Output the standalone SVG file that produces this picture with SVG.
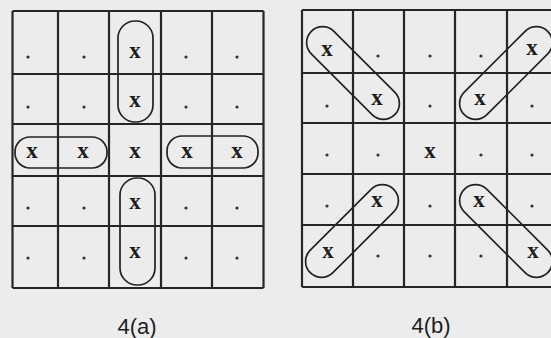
<svg xmlns="http://www.w3.org/2000/svg" width="551" height="338" viewBox="0 0 551 338">
<style>
.g{stroke:#262626;stroke-width:2.2;fill:none}
.p{stroke:#222;stroke-width:1.7;fill:none}
.x{font-family:"Liberation Serif",serif;font-weight:bold;font-size:23px;fill:#1e1e1e;text-anchor:middle}
.d{fill:#333}
.l{font-family:"Liberation Sans",sans-serif;font-size:22px;fill:#1e1e1e;text-anchor:middle}
</style>
<rect width="551" height="338" fill="#ececec"/>
<g id="grid-a">
<path class="g" d="M12.5 11V288M58 11V288M109 11V288M161 11V288M212 11V288M263.5 11V288M12.5 11H263.5M12.5 74H263.5M12.5 124H263.5M12.5 176H263.5M12.5 226H263.5M12.5 288H263.5"/>
<g id="dots-a">
<circle class="d" cx="28" cy="57" r="1.6"/><circle class="d" cx="84" cy="57" r="1.6"/><circle class="d" cx="186" cy="57" r="1.6"/><circle class="d" cx="237" cy="57" r="1.6"/>
<circle class="d" cx="28" cy="107" r="1.6"/><circle class="d" cx="84" cy="107" r="1.6"/><circle class="d" cx="186" cy="107" r="1.6"/><circle class="d" cx="237" cy="107" r="1.6"/>
<circle class="d" cx="28" cy="208" r="1.6"/><circle class="d" cx="84" cy="208" r="1.6"/><circle class="d" cx="186" cy="208" r="1.6"/><circle class="d" cx="237" cy="208" r="1.6"/>
<circle class="d" cx="28" cy="258" r="1.6"/><circle class="d" cx="84" cy="258" r="1.6"/><circle class="d" cx="186" cy="258" r="1.6"/><circle class="d" cx="237" cy="258" r="1.6"/>
</g>
<g id="xs-a">
<text class="x" x="135" y="58">x</text>
<text class="x" x="135" y="107">x</text>
<text class="x" x="32" y="158">x</text>
<text class="x" x="83" y="158">x</text>
<text class="x" x="135" y="158">x</text>
<text class="x" x="187" y="158">x</text>
<text class="x" x="237" y="158">x</text>
<text class="x" x="135" y="209">x</text>
<text class="x" x="135" y="258">x</text>
</g>
<g id="pills-a">
<rect class="p" x="118" y="21" width="35" height="101" rx="17"/>
<rect class="p" x="120" y="178" width="35" height="107" rx="17"/>
<rect class="p" x="15" y="137" width="92" height="31" rx="15"/>
<rect class="p" x="167" y="136" width="91" height="32" rx="15"/>
</g>
<text id="label-a" class="l" x="137" y="334">4(a)</text>
</g>
<g id="grid-b">
<path class="g" d="M302 10V287M353 10V287M404 10V287M455 10V287M507 10V287M302 10H551M302 73H551M302 123H551M302 174H551M302 225H551M302 287H551"/>
<g id="dots-b">
<circle class="d" cx="378" cy="56" r="1.6"/><circle class="d" cx="430" cy="56" r="1.6"/><circle class="d" cx="481" cy="56" r="1.6"/>
<circle class="d" cx="327" cy="106" r="1.6"/><circle class="d" cx="430" cy="106" r="1.6"/><circle class="d" cx="532" cy="106" r="1.6"/>
<circle class="d" cx="327" cy="155" r="1.6"/><circle class="d" cx="378" cy="155" r="1.6"/><circle class="d" cx="481" cy="155" r="1.6"/><circle class="d" cx="532" cy="155" r="1.6"/>
<circle class="d" cx="327" cy="206" r="1.6"/><circle class="d" cx="430" cy="206" r="1.6"/><circle class="d" cx="532" cy="206" r="1.6"/>
<circle class="d" cx="378" cy="256" r="1.6"/><circle class="d" cx="430" cy="256" r="1.6"/><circle class="d" cx="481" cy="256" r="1.6"/>
</g>
<g id="xs-b">
<text class="x" x="327" y="56">x</text>
<text class="x" x="532" y="55">x</text>
<text class="x" x="377" y="105">x</text>
<text class="x" x="480" y="105">x</text>
<text class="x" x="430" y="158">x</text>
<text class="x" x="377" y="207">x</text>
<text class="x" x="479" y="207">x</text>
<text class="x" x="328" y="258">x</text>
<text class="x" x="533" y="258">x</text>
</g>
<g id="pills-b">
<rect class="p" x="-59" y="-16" width="118" height="32" rx="16" transform="translate(353 73) rotate(45)"/>
<rect class="p" x="-59" y="-16" width="118" height="32" rx="16" transform="translate(506 73) rotate(-45)"/>
<rect class="p" x="-59" y="-16" width="118" height="32" rx="16" transform="translate(352 231) rotate(-45)"/>
<rect class="p" x="-59" y="-16" width="118" height="32" rx="16" transform="translate(506 231) rotate(45)"/>
</g>
<text id="label-b" class="l" x="431" y="333">4(b)</text>
</g>
</svg>
